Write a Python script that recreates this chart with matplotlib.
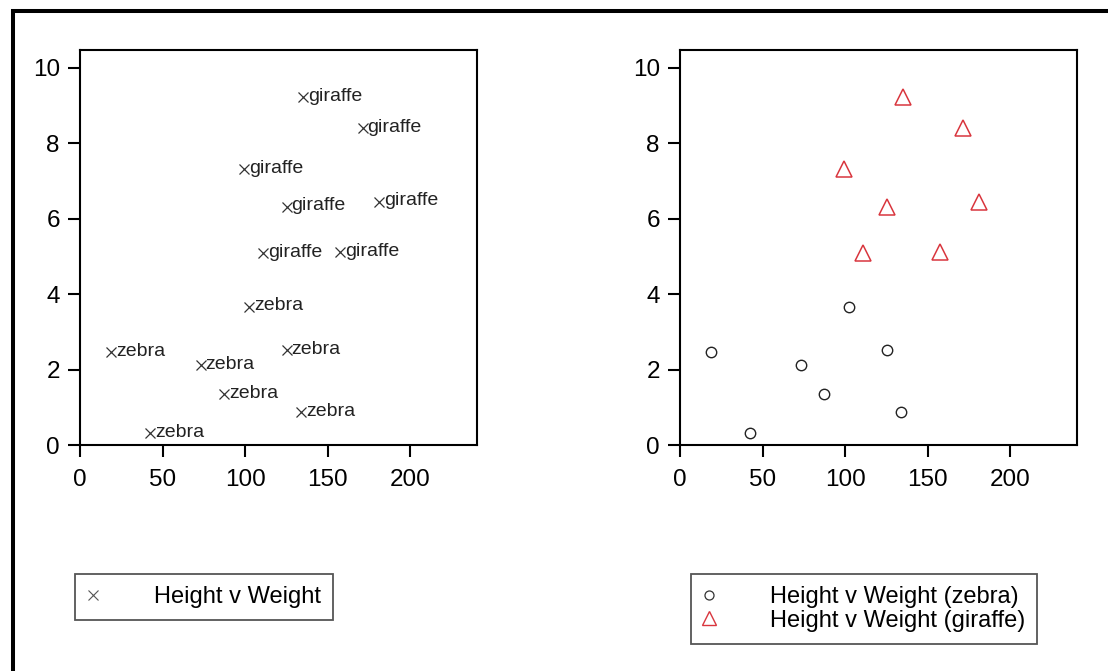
import matplotlib
matplotlib.use("Agg")
import matplotlib.pyplot as plt
from matplotlib.lines import Line2D
from matplotlib.patches import Rectangle

plt.rcParams['font.family'] = ['Liberation Sans', 'DejaVu Sans']

# weight (x) and height (y) per animal
zebra_weight = [102.4, 18.8, 73.1, 125.3, 87.5, 133.9, 42.4]
zebra_height = [3.67, 2.47, 2.12, 2.52, 1.34, 0.87, 0.31]
giraffe_weight = [135.3, 171.3, 99.6, 125.3, 181.4, 111.1, 157.6]
giraffe_height = [9.22, 8.39, 7.32, 6.32, 6.45, 5.08, 5.12]

x_ticks = [0, 50, 100, 150, 200]
y_ticks = [0, 2, 4, 6, 8, 10]

W, H = 1108, 671
fig = plt.figure(figsize=(W / 100, H / 100), dpi=100)

# outer frame (only top and left edges visible)
fig.patches.append(Rectangle((13 / W, -0.1), 1.2, 1.1 - 11.5 / H, transform=fig.transFigure,
                             fill=False, edgecolor='black', linewidth=2.9))

def setup(ax):
    ax.set_xlim(0, 240.6)
    ax.set_ylim(0, 10.47)
    ax.set_xticks(x_ticks)
    ax.set_yticks(y_ticks)
    ax.tick_params(axis='both', length=8.5, width=1.5, labelsize=17.5, direction='out')
    ax.tick_params(axis='x', pad=9)
    ax.tick_params(axis='y', pad=6)
    for s in ax.spines.values():
        s.set_linewidth(1.5)

ax1 = fig.add_axes([80 / W, 1 - 445 / H, 397 / W, 395 / H])
ax2 = fig.add_axes([680 / W, 1 - 445 / H, 397 / W, 395 / H])

# left: all points as x with text labels
all_w = zebra_weight + giraffe_weight
all_h = zebra_height + giraffe_height
names = ['zebra'] * len(zebra_weight) + ['giraffe'] * len(giraffe_weight)
ax1.plot(all_w, all_h, linestyle='none', marker='x', markersize=7, color='#333333',
         markeredgewidth=0.9)
for w, h, n in zip(all_w, all_h, names):
    ax1.annotate(n, (w, h), xytext=(3.5, 0.5), textcoords='offset points',
                 ha='left', va='center', fontsize=14, color='#222222')
setup(ax1)

# right: grouped markers
ax2.plot(zebra_weight, zebra_height, linestyle='none', marker='o', markersize=7.5,
         markerfacecolor='none', markeredgecolor='#222222', markeredgewidth=1.0)
ax2.plot(giraffe_weight, giraffe_height, linestyle='none', marker='^', markersize=11,
         markerfacecolor='none', markeredgecolor='#d9363e', markeredgewidth=1.1)
setup(ax2)

leg_kw = dict(loc='upper left', borderaxespad=0, fontsize=17, fancybox=False,
              borderpad=0.5, handlelength=0.55, handletextpad=2.3,
              edgecolor='#555555', framealpha=1)

h1 = [Line2D([], [], linestyle='none', marker='x', markersize=7, color='#555555',
             markeredgewidth=0.8)]
leg1 = fig.legend(h1, ['Height v Weight'], bbox_to_anchor=(75 / W, 1 - 574 / H), **leg_kw)
leg1.get_frame().set_linewidth(1.3)

h2 = [Line2D([], [], linestyle='none', marker='o', markersize=6.5, markerfacecolor='none',
             markeredgecolor='#333333', markeredgewidth=0.9),
      Line2D([], [], linestyle='none', marker='^', markersize=10, markerfacecolor='none',
             markeredgecolor='#d9363e', markeredgewidth=1.0)]
leg2 = fig.legend(h2, ['Height v Weight (zebra)', 'Height v Weight (giraffe)'],
                  bbox_to_anchor=(691 / W, 1 - 574 / H), labelspacing=0.08, **leg_kw)
leg2.get_frame().set_linewidth(1.3)

fig.savefig('out.png', dpi=100)
